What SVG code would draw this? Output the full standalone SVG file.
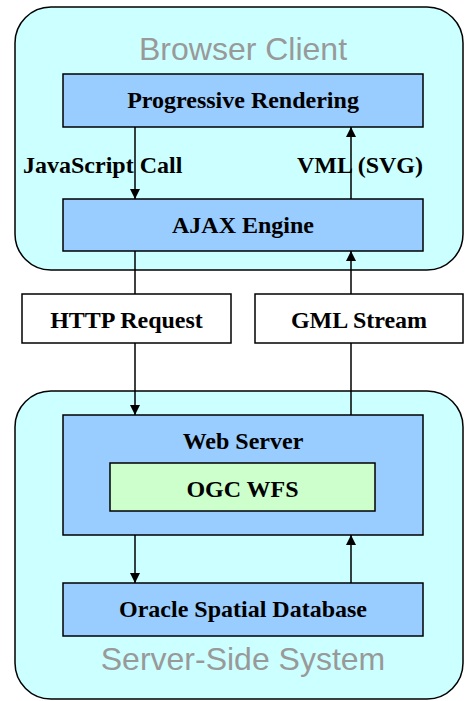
<svg xmlns="http://www.w3.org/2000/svg" width="465" height="701" viewBox="0 0 465 701">
<style>
.zone{fill:#CCFFFF;stroke:#000;stroke-width:1.5}
.box{fill:#99CCFF;stroke:#000;stroke-width:1.5}
.wbox{fill:#FFFFFF;stroke:#000;stroke-width:1.5}
.gbox{fill:#CCFFCC;stroke:#000;stroke-width:1.5}
.lbl{font-family:"Liberation Serif","Times New Roman",serif;font-weight:bold;font-size:24px;fill:#000}
.ttl{font-family:"Liberation Sans",Arial,sans-serif;font-size:32px;fill:#999999}
.c{text-anchor:middle}
.ln{stroke:#000;stroke-width:1.5;fill:none}
</style>
<defs>
<marker id="ah" markerWidth="10" markerHeight="10" refX="10" refY="5" orient="auto" markerUnits="userSpaceOnUse">
<path d="M0,0 L10,5 L0,10 Z" fill="#000"/>
</marker>
</defs>
<g id="browser-client">
<rect class="zone" x="15" y="7" width="448" height="263" rx="36" ry="36"/>
<text class="ttl c" x="243" y="60">Browser Client</text>
</g>
<g id="server-side">
<rect class="zone" x="15" y="391" width="448" height="308" rx="36" ry="36"/>
<text class="ttl c" x="243" y="670">Server-Side System</text>
</g>
<g id="progressive-rendering">
<rect class="box" x="63" y="74" width="360" height="53"/>
<text class="lbl c" x="243" y="108">Progressive Rendering</text>
</g>
<g id="ajax-engine">
<rect class="box" x="63" y="199" width="360" height="52"/>
<text class="lbl c" x="243" y="233">AJAX Engine</text>
</g>
<g id="http-request">
<rect class="wbox" x="22" y="294" width="209" height="49"/>
<text class="lbl c" x="126.5" y="328">HTTP Request</text>
</g>
<g id="gml-stream">
<rect class="wbox" x="255" y="294" width="208" height="49"/>
<text class="lbl c" x="359" y="328">GML Stream</text>
</g>
<g id="web-server">
<rect class="box" x="63" y="415" width="360" height="120"/>
<text class="lbl c" x="243" y="449">Web Server</text>
</g>
<g id="ogc-wfs">
<rect class="gbox" x="110" y="463" width="265" height="48"/>
<text class="lbl c" x="242.5" y="497">OGC WFS</text>
</g>
<g id="oracle-db">
<rect class="box" x="63" y="583" width="360" height="53"/>
<text class="lbl c" x="243" y="617">Oracle Spatial Database</text>
</g>
<g id="connectors">
<line class="ln" x1="135" y1="127" x2="135" y2="199" marker-end="url(#ah)"/>
<line class="ln" x1="351" y1="199" x2="351" y2="127" marker-end="url(#ah)"/>
<line class="ln" x1="135" y1="251" x2="135" y2="294"/>
<line class="ln" x1="135" y1="343" x2="135" y2="415" marker-end="url(#ah)"/>
<line class="ln" x1="351" y1="415" x2="351" y2="343"/>
<line class="ln" x1="351" y1="294" x2="351" y2="251" marker-end="url(#ah)"/>
<line class="ln" x1="135" y1="535" x2="135" y2="583" marker-end="url(#ah)"/>
<line class="ln" x1="351" y1="583" x2="351" y2="535" marker-end="url(#ah)"/>
<text class="lbl" x="23" y="173">JavaScript Call</text>
<text class="lbl" x="297" y="173">VML (SVG)</text>
</g>
</svg>
